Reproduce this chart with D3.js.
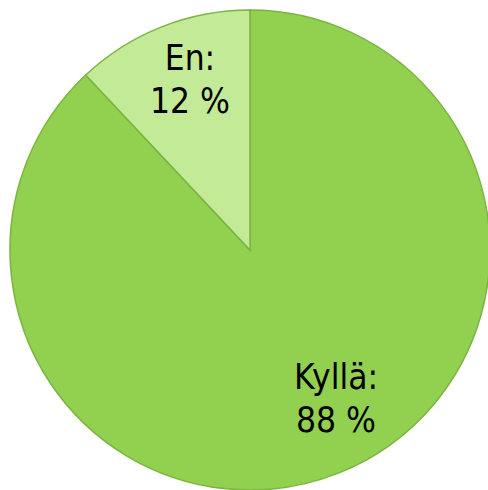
<!DOCTYPE html>
<html>
<head>
<meta charset="utf-8">
<script src="https://cdn.jsdelivr.net/npm/d3@7"></script>
<style>
  body { margin: 0; background: #fff; }
  svg { display: block; }
</style>
</head>
<body>
<div id="vis"></div>
<script>
// data
const categories = ["Kyllä", "En"];
const values = [88, 12];
const colors = ["#92d050", "#c3eb97"];

const width = 488, height = 490;
const cx = 250, cy = 250, radius = 240;

const svg = d3.select("#vis")
  .append("svg")
  .attr("width", width)
  .attr("height", height);

const g = svg.append("g")
  .attr("transform", "translate(" + cx + "," + cy + ")");

const pie = d3.pie().sort(null).value(d => d.value);
const arc = d3.arc().innerRadius(0).outerRadius(radius);

const data = categories.map((c, i) => ({ name: c, value: values[i], color: colors[i] }));
const arcs = pie(data);

g.selectAll("path")
  .data(arcs)
  .enter()
  .append("path")
  .attr("d", arc)
  .attr("fill", d => d.data.color)
  .attr("stroke", "#7cb442")
  .attr("stroke-width", 1.5);

// label anchor points, relative to pie centre (baseline of first line)
const labelPos = [[86, 139], [-60, -180]];

const labels = g.selectAll("text.lbl")
  .data(arcs)
  .enter()
  .append("text")
  .attr("class", "lbl")
  .attr("text-anchor", "middle")
  .attr("font-family", "'DejaVu Sans Condensed', 'DejaVu Sans', sans-serif")
  .attr("font-size", 35)
  .attr("fill", "#000")
  .attr("transform", (d, i) => "translate(" + labelPos[i][0] + "," + labelPos[i][1] + ")");

labels.append("tspan")
  .attr("x", 0)
  .attr("y", 0)
  .text(d => d.data.name + ":");
labels.append("tspan")
  .attr("x", 0)
  .attr("y", 43)
  .text(d => d.data.value + " %");
</script>
</body>
</html>
